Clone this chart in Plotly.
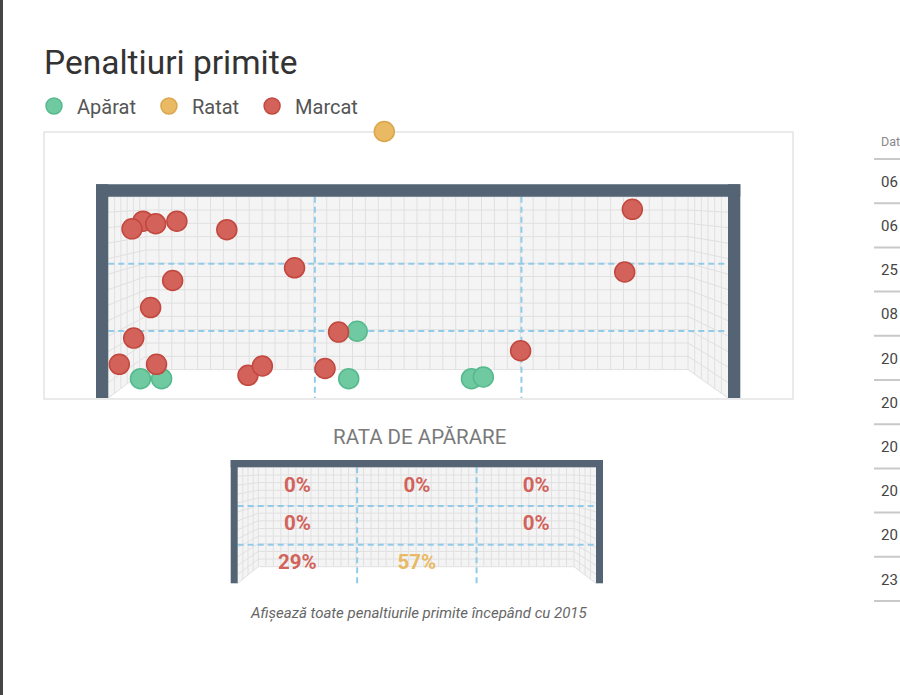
import plotly.graph_objects as go

# ---------------- data ----------------
# Shot positions in metres: x measured from the inside of the left post, y above the ground
saved_x = [0.38, 0.63, 2.84, 4.29, 4.43, 2.94]
saved_y = [0.24, 0.24, 0.24, 0.24, 0.26, 0.80]
missed_x = [3.26]
missed_y = [3.16]
scored_x = [0.41, 0.28, 0.56, 0.81, 1.40, 2.20, 0.76, 0.50, 0.30, 0.13, 0.57,
            1.65, 1.82, 2.56, 2.72, 6.19, 6.10, 4.87]
scored_y = [2.10, 2.01, 2.07, 2.10, 2.00, 1.55, 1.40, 1.08, 0.72, 0.41, 0.41,
            0.28, 0.39, 0.36, 0.79, 2.24, 1.50, 0.57]

legend_labels = ["Apărat", "Ratat", "Marcat"]

# save rate per goal zone (rows top -> bottom, columns left -> right); None = no shots
zone_rates = [[0, 0, 0],
              [0, None, 0],
              [29, 57, None]]

table_header = "Dat"
table_days = ["06", "06", "25", "08", "20", "20", "20", "20", "20", "23"]

title_text = "Penaltiuri primite"
rate_title = "RATA DE APĂRARE"
caption = "Afișează toate penaltiurile primite începând cu 2015"

# ---------------- styling ----------------
W, H = 900, 695
GOAL_W = 7.32
GREEN, GREEN_D = "#6fc9a1", "#56b98d"
YELLOW, YELLOW_D = "#e9b963", "#dba64b"
RED, RED_D = "#d2625a", "#c2473e"
NET_BG = "#f4f4f4"
NET_LINE = "#e0e0e0"
FRAME = "#546474"
DASH = "#92cbe8"
FONT = "Roboto"
PAD = "\u00a0"


def fx(p):
    return p / W


def fy(p):
    return 1 - p / H


shapes = []


def add_rect(x0, y0, x1, y1, fill=None, line=None, lw=0):
    shapes.append(dict(type="rect", xref="paper", yref="paper", layer="below",
                       x0=fx(x0), x1=fx(x1), y0=fy(y1), y1=fy(y0),
                       fillcolor=fill if fill else "rgba(0,0,0,0)",
                       line=dict(color=line or "rgba(0,0,0,0)", width=lw)))


def add_path(polys, color, width, fill=None, dash=None, closed=False):
    d = ""
    for pl in polys:
        d += "M" + "L".join(f"{fx(x):.5f},{fy(y):.5f}" for x, y in pl)
        if closed:
            d += "Z"
    s = dict(type="path", path=d, xref="paper", yref="paper", layer="below",
             line=dict(color=color, width=width))
    if dash:
        s["line"]["dash"] = dash
    if fill:
        s["fillcolor"] = fill
    shapes.append(s)


def draw_goal(xl, xr, top, ground, bl, br, bback, post, bar_top,
              ncols=42, nrows=13, nside=6):
    clear = "rgba(0,0,0,0)"
    add_path([[(bl, top), (br, top), (br, bback), (bl, bback)],
              [(xl, top), (bl, top), (bl, bback), (xl, ground)],
              [(br, top), (xr, top), (xr, ground), (br, bback)]],
             clear, 0, fill=NET_BG, closed=True)
    lines = []
    for k in range(ncols + 1):
        x = bl + k * (br - bl) / ncols
        lines.append([(x, top), (x, bback)])
    for j in range(nrows + 1):
        yb = top + j * (bback - top) / nrows
        yp = top + j * (ground - top) / nrows
        lines.append([(xl, yp), (bl, yb), (br, yb), (xr, yp)])
    for i in range(1, nside):
        t = i / nside
        yb = ground + t * (bback - ground)
        x = xl + t * (bl - xl)
        lines.append([(x, top), (x, yb)])
        x = xr + t * (br - xr)
        lines.append([(x, top), (x, yb)])
    add_path(lines, NET_LINE, 1)
    dl = []
    for k in (1, 2):
        x = xl + k * (xr - xl) / 3
        dl.append([(x, top), (x, ground)])
        y = top + k * (ground - top) / 3
        dl.append([(xl, y), (xr, y)])
    add_path(dl, DASH, 2, dash="6px,4px")
    add_rect(xl - post, bar_top, xl, ground, fill=FRAME)
    add_rect(xr, bar_top, xr + post, ground, fill=FRAME)
    add_rect(xl - post, bar_top, xr + post, top, fill=FRAME)


# page furniture
add_rect(0, 0, 3, H, fill="#454545")
add_rect(44, 132, 793, 399, line="#e4e4e4", lw=1.5)
draw_goal(108.3, 728, 196.7, 398, 146, 688, 369.6, 12.3, 184.3)
draw_goal(237.7, 596, 467.3, 583.3, 258.3, 574, 566.7, 7, 460, nside=4)
tl = []
for i in range(len(table_days) + 1):
    y = 159 + i * 44.2
    tl.append([(874, y), (905, y)])
add_path(tl, "#c9c9c9", 2)

# ---------------- figure ----------------
fig = go.Figure()

# main goal axes (metres)
GX0, GX1, GY0, GY1 = 44, 793, 112, 399
XL, XR = 108.3, 728
S = (XR - XL) / GOAL_W
GROUND = 399

fig.add_trace(go.Scatter(
    x=saved_x, y=saved_y, mode="markers", name=legend_labels[0] + PAD,
    marker=dict(size=20, color=GREEN, line=dict(color=GREEN_D, width=1.5)),
    cliponaxis=False, hoverinfo="skip"))
fig.add_trace(go.Scatter(
    x=missed_x, y=missed_y, mode="markers", name=legend_labels[1] + PAD,
    marker=dict(size=20, color=YELLOW, line=dict(color=YELLOW_D, width=1.5)),
    cliponaxis=False, hoverinfo="skip"))
fig.add_trace(go.Scatter(
    x=scored_x, y=scored_y, mode="markers", name=legend_labels[2],
    marker=dict(size=20, color=RED, line=dict(color=RED_D, width=1.5)),
    cliponaxis=False, hoverinfo="skip"))

# zone save-rate labels
tx, ty, tt, tc = [], [], [], []
for r, row in enumerate(zone_rates):
    for c, v in enumerate(row):
        if v is None:
            continue
        tx.append(c + 0.5)
        ty.append(2.5 - r)
        tt.append(f"{v}%")
        tc.append(YELLOW if v >= 50 else RED)
fig.add_trace(go.Scatter(
    x=tx, y=ty, text=tt, mode="text", xaxis="x2", yaxis="y2",
    textfont=dict(family=FONT, size=20.5, color=tc, weight=700),
    showlegend=False, hoverinfo="skip", cliponaxis=False))

annotations = [
    dict(text=title_text, x=fx(42), y=fy(62), xanchor="left", yanchor="middle",
         font=dict(family=FONT, size=33.5, color="#333333")),
    dict(text=rate_title, x=fx(419), y=fy(437), xanchor="center", yanchor="middle",
         font=dict(family=FONT, size=20.5, color="#7a7a7a")),
    dict(text=f"<i>{caption}</i>", x=fx(419), y=fy(613), xanchor="center", yanchor="middle",
         font=dict(family=FONT, size=15, color="#666666")),
    dict(text=table_header, x=fx(879), y=fy(141), xanchor="left", yanchor="middle",
         font=dict(family=FONT, size=12.5, color="#888888")),
]
for i, d in enumerate(table_days):
    annotations.append(dict(text=d, x=fx(879), y=fy(181.7 + i * 44.2), xanchor="left",
                            yanchor="middle", font=dict(family=FONT, size=15, color="#444444")))
for a in annotations:
    a.update(xref="paper", yref="paper", showarrow=False)

hidden = dict(visible=False, fixedrange=True)
fig.update_layout(
    width=W, height=H, margin=dict(l=0, r=0, t=0, b=0),
    paper_bgcolor="white", plot_bgcolor="rgba(0,0,0,0)",
    font=dict(family=FONT),
    xaxis=dict(domain=[fx(GX0), fx(GX1)], range=[(GX0 - XL) / S, (GX1 - XL) / S], **hidden),
    yaxis=dict(domain=[fy(GY1), fy(GY0)], range=[(GROUND - GY1) / S, (GROUND - GY0) / S], **hidden),
    xaxis2=dict(domain=[fx(237.7), fx(596)], range=[0, 3], anchor="y2", **hidden),
    yaxis2=dict(domain=[fy(583.3), fy(467.3)], range=[0, 3], anchor="x2", **hidden),
    showlegend=True,
    legend=dict(orientation="h", x=fx(31), xanchor="left", y=fy(106), yanchor="middle",
                font=dict(family=FONT, size=20, color="#555555"), itemwidth=36,
                bgcolor="rgba(0,0,0,0)", borderwidth=0, itemclick=False, itemdoubleclick=False),
    shapes=shapes, annotations=annotations,
)

fig.write_html("out.html", config={"displayModeBar": False, "staticPlot": True})
